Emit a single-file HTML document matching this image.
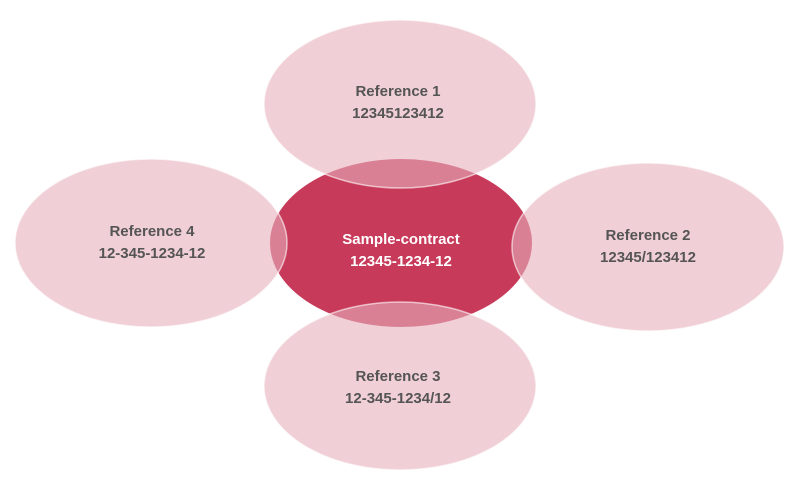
<!DOCTYPE html>
<html><head><style>body{margin:0;background:#fff}svg{display:block}</style></head><body>
<svg width="800" height="491" xmlns="http://www.w3.org/2000/svg" font-family="'Liberation Sans',sans-serif" font-weight="bold" font-size="15" text-anchor="middle">
<ellipse cx="401" cy="243" rx="131" ry="84" fill="#c83a5a"/>
<g fill="rgb(230,175,187)" fill-opacity="0.6" stroke="#fff" stroke-opacity="0.6" stroke-width="1.5">
<ellipse cx="400" cy="104" rx="136" ry="84"/>
<ellipse cx="648" cy="247" rx="136" ry="84"/>
<ellipse cx="400" cy="386" rx="136" ry="84"/>
<ellipse cx="151" cy="243" rx="136" ry="84"/>
</g>
<g fill="#fff"><text x="401" y="244">Sample-contract</text><text x="401" y="266">12345-1234-12</text></g>
<g fill="#555">
<text x="398" y="96">Reference 1</text><text x="398" y="118">12345123412</text>
<text x="648" y="240">Reference 2</text><text x="648" y="262">12345/123412</text>
<text x="398" y="381">Reference 3</text><text x="398" y="403">12-345-1234/12</text>
<text x="152" y="236">Reference 4</text><text x="152" y="258">12-345-1234-12</text>
</g>
</svg>
</body></html>
